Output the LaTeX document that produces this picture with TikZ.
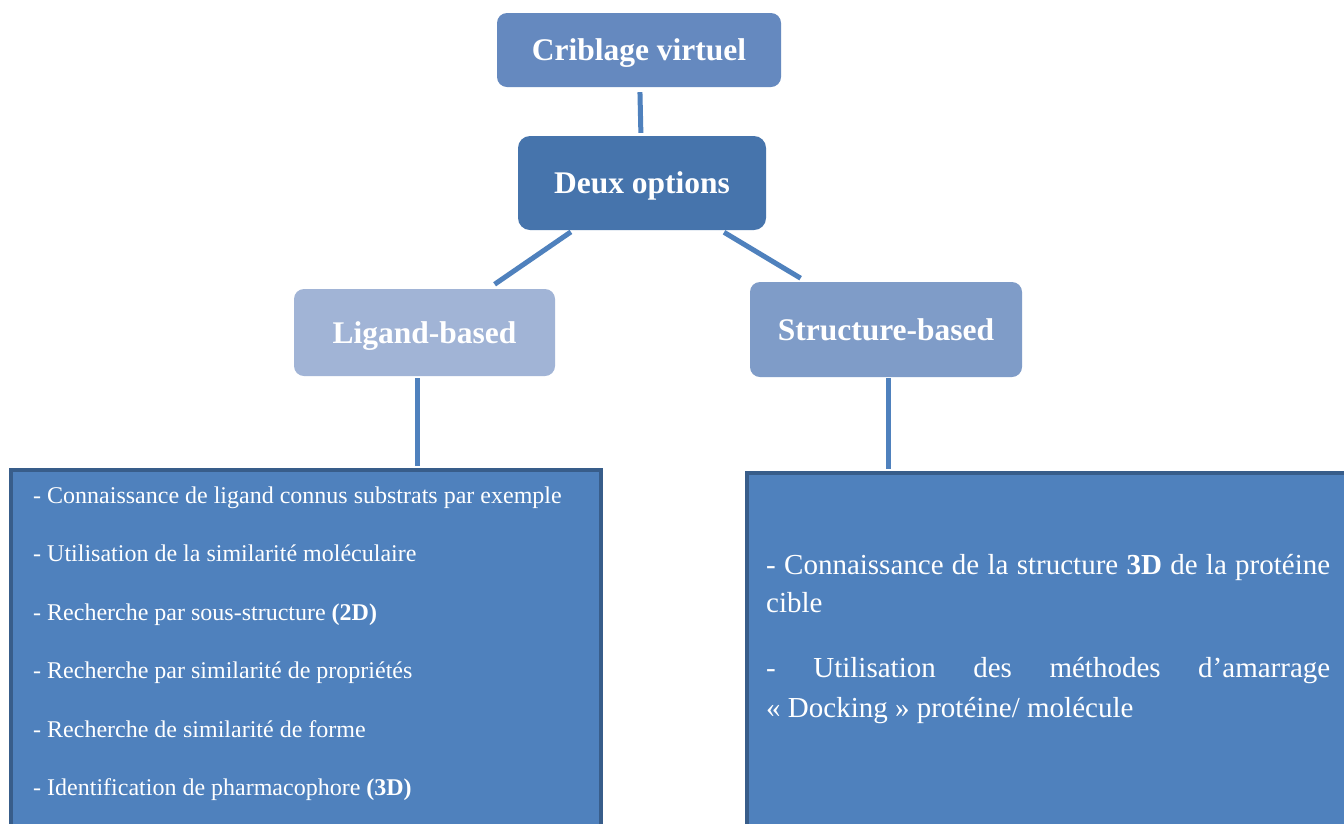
\documentclass[tikz,border=0pt]{standalone}
\usepackage{fontspec}
\setmainfont{Liberation Serif}
\usetikzlibrary{calc}
\definecolor{cribc}{HTML}{6589BF}
\definecolor{deuxc}{HTML}{4674AC}
\definecolor{ligc}{HTML}{A1B4D6}
\definecolor{strc}{HTML}{7F9CC8}
\definecolor{boxc}{HTML}{4F81BD}
\definecolor{borderc}{HTML}{385D8A}
\definecolor{linec}{HTML}{4F81BD}
\tikzset{
  headbox/.style={rounded corners=10pt, inner sep=0pt, text=white,
    text height=21.5pt, text depth=0pt,
    font=\fontsize{31.5}{36}\selectfont\bfseries},
  bigbox/.style={fill=boxc, draw=borderc, line width=4pt, inner sep=0pt, anchor=north west},
  conn/.style={draw=linec, line width=5pt},
  ltext/.style={anchor=base west, inner sep=0pt, text=white, font=\fontsize{24}{28}\selectfont},
  rtext/.style={anchor=base west, inner sep=0pt, text=white, font=\fontsize{29}{34}\selectfont}
}
\begin{document}
\begin{tikzpicture}[x=1pt,y=-1pt]
\clip (0,0) rectangle (1344,823);
\fill[white] (0,0) rectangle (1344,823);
% header boxes
\node[headbox, fill=cribc, minimum width=284pt, minimum height=74pt] (crib) at (639,50) {Criblage virtuel};
\node[headbox, fill=deuxc, minimum width=248pt, minimum height=94pt, rounded corners=12pt] (deux) at (642,183) {Deux options};
\node[headbox, fill=ligc, minimum width=261pt, minimum height=87pt] (lig) at (424.5,332.5) {Ligand-based};
\node[headbox, fill=strc, minimum width=272pt, minimum height=95pt] (str) at (886,329.5) {Structure-based};
% bottom boxes
\node[bigbox, minimum width=590pt, minimum height=420pt] (lbox) at (9,468) {};
\node[bigbox, minimum width=700pt, minimum height=420pt] (rbox) at (745,471) {};
% connectors
\draw[conn, shorten <=5pt, shorten >=3pt] (crib) -- (deux);
\draw[conn, shorten <=3pt, shorten >=8pt] (deux) -- (lig);
\draw[conn, shorten <=4pt, shorten >=7pt] (deux) -- (str);
\coordinate (lj) at (417,466);
\coordinate (rj) at (888,469);
\draw[conn, shorten <=2pt] (lig.south -| lj) -- (lj);
\draw[conn, shorten <=1pt] (str.south -| rj) -- (rj);
% left text
\node[ltext] (l1) at (33,503) {- Connaissance de ligand connus substrats par exemple};
\node[ltext] (l2) at (33,561.5) {- Utilisation de la similarité moléculaire};
\node[ltext] (l3) at (33,620) {- Recherche par sous-structure \textbf{(2D)}};
\node[ltext] (l4) at (33,678.5) {- Recherche par similarité de propriétés};
\node[ltext] (l5) at (33,737) {- Recherche de similarité de forme};
\node[ltext] (l6) at (33,795.5) {- Identification de pharmacophore \textbf{(3D)}};
% right text
\node[rtext] (r1) at (766,574) {\makebox[564pt][s]{- Connaissance de la structure \textbf{3D} de la protéine}};
\node[rtext] (r2) at (766,612) {cible};
\node[rtext] (r3) at (766,677) {\makebox[564pt][s]{- Utilisation des méthodes d’amarrage}};
\node[rtext] (r4) at (766,717) {« Docking » protéine/ molécule};
\end{tikzpicture}
\end{document}
